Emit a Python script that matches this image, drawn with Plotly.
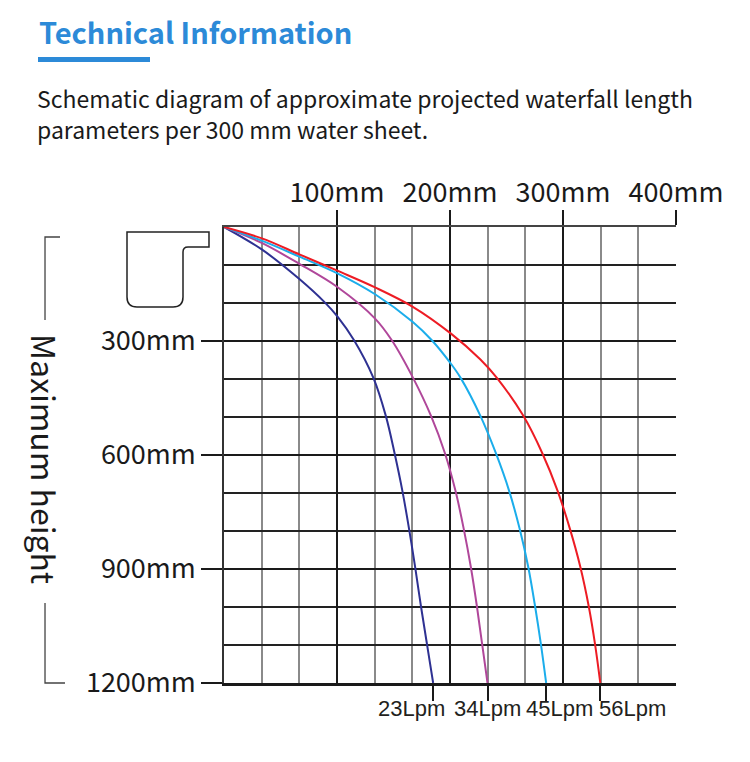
import plotly.graph_objects as go

# waterfall profiles, mm from the lip (x = projection, y = drop)
NAVY_X = [0, 33.4, 66.7, 89.4, 100.3, 115.1, 132.2, 143.2, 151, 157.9, 163.8, 169.1, 174.4, 179.8, 185.1]
NAVY_Y = [0, 59, 137, 199, 235, 298, 397, 497, 596, 695, 795, 894, 1000, 1101, 1200]
MAGENTA_X = [0, 33.4, 66.7, 100.3, 133.7, 148.5, 167.3, 183.2, 195.6, 204.9, 212.2, 218.4, 223.9, 228.6, 233.2]
MAGENTA_Y = [0, 42, 97, 158, 241, 298, 397, 497, 596, 695, 795, 894, 1000, 1101, 1200]
CYAN_X = [0, 33.4, 66.7, 100.3, 133.7, 167.1, 183.9, 200.1, 209.4, 226.9, 240.7, 252.4, 261.7, 269.2, 275.4, 280.6, 285.1]
CYAN_Y = [0, 36, 78, 122, 177, 250, 298, 357, 397, 497, 596, 695, 795, 894, 1000, 1101, 1200]
RED_X = [0, 33.6, 66.7, 100.3, 133.7, 167.1, 200.6, 226.7, 241.5, 264.9, 281.8, 295.3, 306.2, 315.3, 322.9, 328.5, 333]
RED_Y = [0, 30, 72, 115, 159, 210, 280, 348, 397, 497, 596, 695, 795, 894, 1000, 1101, 1200]

FLOW_LABELS = ["23Lpm", "34Lpm", "45Lpm", "56Lpm"]
TOP_TICKS = [100, 200, 300, 400]
TOP_LABELS = ["100mm", "200mm", "300mm", "400mm"]
SIDE_TICKS = [300, 600, 900, 1200]
SIDE_LABELS = ["300mm", "600mm", "900mm", "1200mm"]

OFF = 8  # default body margin of the html page
W, H = 750 - OFF, 762 - OFF
L, R, T, B = 224 - OFF, 74, 227 - OFF, 79
PW, PH = W - L - R, H - T - B
BLUE = "#2C8AD8"
INK = "#1a1a1a"
SANS = "Noto Sans CJK SC, Noto Sans, sans-serif"
ARIAL = "Liberation Sans, Arial, sans-serif"


def px(x, y):
    """page pixel position -> paper coords"""
    return (x - OFF - L) / PW, (H - B - (y - OFF)) / PH


def pt(x, y):
    a, b = px(x, y)
    return f"{a:.4f},{b:.4f}"


curves = [
    (NAVY_X, NAVY_Y, "#2E3192"),
    (MAGENTA_X, MAGENTA_Y, "#B0479A"),
    (CYAN_X, CYAN_Y, "#1BADEB"),
    (RED_X, RED_Y, "#ED1C24"),
]

fig = go.Figure()
for xs, ys, col in curves:
    fig.add_trace(go.Scatter(
        x=xs, y=ys, mode="lines", line=dict(color=col, width=2, shape="spline", smoothing=1.0),
        showlegend=False, hoverinfo="skip",
    ))
# invisible anchor so the top axis gets drawn
fig.add_trace(go.Scatter(x=TOP_TICKS, y=[0] * 4, xaxis="x2", mode="markers",
                         marker=dict(opacity=0), showlegend=False, hoverinfo="skip"))

ends = [c[0][-1] for c in curves]

fig.update_layout(
    width=W, height=H, margin=dict(l=L, r=R, t=T, b=B),
    paper_bgcolor="white", plot_bgcolor="white",
    xaxis=dict(
        range=[0, 400], tickvals=ends, showticklabels=False,
        ticks="outside", ticklen=15, tickwidth=2, tickcolor=INK,
        showline=True, linecolor=INK, linewidth=2.5,
        showgrid=False, zeroline=False,
        minor=dict(tickmode="linear", tick0=0, dtick=100 / 3, showgrid=True,
                   gridcolor="#8a8a8a", gridwidth=1.6),
    ),
    xaxis2=dict(
        range=[0, 400], overlaying="x", side="top", anchor="y",
        tickvals=TOP_TICKS, ticktext=TOP_LABELS,
        ticks="outside", ticklen=15, tickwidth=2, tickcolor=INK,
        tickfont=dict(family=SANS, size=27, color=INK), ticklabelstandoff=-3,
        showgrid=True, gridcolor=INK, gridwidth=2,
        showline=True, linecolor="#444", linewidth=1.5, zeroline=False,
    ),
    yaxis=dict(
        range=[1200, 0], tickvals=SIDE_TICKS, ticktext=SIDE_LABELS,
        ticks="outside", ticklen=21, tickwidth=2, tickcolor=INK,
        tickfont=dict(family=SANS, size=27, color=INK),
        showgrid=True, gridcolor=INK, gridwidth=2.4,
        showline=True, linecolor="#333", linewidth=1.5, zeroline=False,
        minor=dict(tickmode="linear", tick0=0, dtick=100, showgrid=True,
                   gridcolor="#222222", gridwidth=1.6),
    ),
)

# flow-rate labels under the curve ends, nudged apart like the original
for xe, lab, shift in zip(ends, FLOW_LABELS, [-22, 0, 13, 32]):
    fig.add_annotation(text=lab, x=xe, xref="x", y=0, yref="paper", yanchor="top",
                       xshift=shift, yshift=-11, showarrow=False,
                       font=dict(family=ARIAL, size=22, color="#231f20"))

# title block
tx, ty = px(37, 31)
fig.add_annotation(text="<b>Technical Information</b>", x=tx, y=ty, xref="paper", yref="paper",
                   xanchor="left", yanchor="middle", showarrow=False,
                   font=dict(family=SANS, size=29, color=BLUE))
x0, y0 = px(38, 57)
x1, y1 = px(150, 62)
fig.add_shape(type="rect", xref="paper", yref="paper", x0=x0, y0=y0, x1=x1, y1=y1,
              fillcolor=BLUE, line_width=0)
for txt, yy in [("Schematic diagram of approximate projected waterfall length", 98),
                ("parameters per 300 mm water sheet.", 129)]:
    sx, sy = px(35, yy)
    fig.add_annotation(text=txt, x=sx, y=sy, xref="paper", yref="paper",
                       xanchor="left", yanchor="middle", showarrow=False,
                       font=dict(family=SANS, size=23, color=INK))

# side label with bracket
mx, my = px(45, 459)
fig.add_annotation(text="Maximum height", x=mx, y=my, xref="paper", yref="paper",
                   xanchor="center", yanchor="middle",
                   textangle=90, showarrow=False, font=dict(family=SANS, size=32, color=INK))
fig.add_shape(type="path", xref="paper", yref="paper",
              path=f"M{pt(60, 237)} L{pt(45, 237)} L{pt(45, 320)}",
              line=dict(color="#444", width=1.3))
fig.add_shape(type="path", xref="paper", yref="paper",
              path=f"M{pt(45, 603)} L{pt(45, 683)} L{pt(65, 683)}",
              line=dict(color="#444", width=1.3))

# outlet icon
fig.add_shape(type="path", xref="paper", yref="paper",
              path=(f"M{pt(127, 232)} L{pt(209, 232)} L{pt(209, 247)} L{pt(188, 247)} "
                    f"Q{pt(183, 247)} {pt(183, 252)} L{pt(183, 297)} Q{pt(183, 307)} {pt(173, 307)} "
                    f"L{pt(137, 307)} Q{pt(127, 307)} {pt(127, 297)} Z"),
              line=dict(color="#222", width=1.5))

fig.write_html("out.html")
